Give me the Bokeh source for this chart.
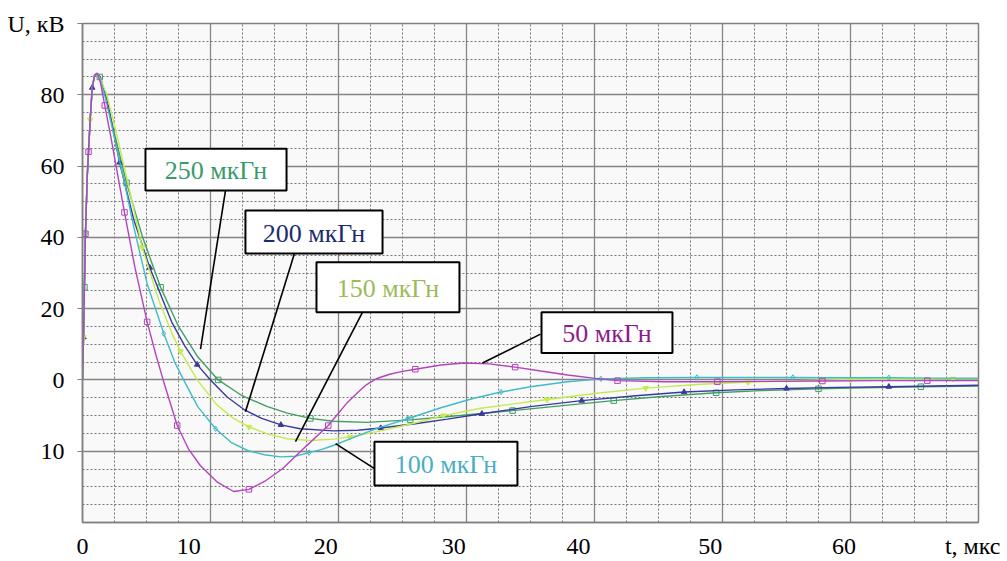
from bokeh.plotting import figure
from bokeh.models import Range1d, FixedTicker, Label, BoxAnnotation, CustomJSTickFormatter
from bokeh.embed import file_html
from bokeh.resources import INLINE

# ---------------- data ----------------
rise_t = [0, 0.08, 0.15, 0.23, 0.37, 0.47, 0.6, 0.76, 0.95, 1.15]
rise_u = [0, 12, 26, 41, 57, 64, 73, 82, 85.5, 86]

t250 = rise_t + [1.35, 1.8, 2.5, 3.44, 4.7, 6.1, 7.5, 9, 10.6, 12.5, 14.4, 16, 17.8, 19.6, 22.2, 25.6, 29.5, 33.6, 37.5, 41.5, 45, 49.5, 53, 57.5, 61, 65.5, 70]
u250 = rise_u + [85, 80, 69, 55.3, 40, 26, 15, 6.5, 0, -4.5, -7.4, -9.3, -10.8, -11.6, -11.9, -11.2, -10, -8.6, -7.2, -5.8, -4.7, -3.6, -3.0, -2.5, -2.2, -1.9, -1.7]

t200 = rise_t + [1.4, 2.0, 2.9, 4.0, 5.26, 7.0, 8.0, 8.96, 10, 11.3, 12.7, 14, 15.5, 17, 19.6, 21.5, 23.3, 26, 28.5, 31.2, 35, 39, 43, 47, 51, 55, 59, 63, 66.5, 70]
u200 = rise_u + [85, 77, 61, 45, 31.5, 16, 9.5, 4.3, 0, -4.8, -8.5, -10.8, -12.6, -13.7, -14.3, -14.1, -13.5, -12.3, -11, -9.5, -7.5, -5.8, -4.5, -3.4, -2.8, -2.4, -2.1, -1.9, -1.7, -1.5]

t150 = rise_t + [1.4, 1.9, 2.6, 3.5, 4.66, 6.0, 7.0, 7.66, 8.96, 10.5, 11.8, 13.0, 14.5, 16.0, 17.8, 19.6, 20.9, 23, 25.5, 28.2, 31, 33.5, 36.3, 40, 44, 48, 52, 56, 60, 64, 68, 70]
u150 = rise_u + [84.5, 80, 70, 56, 37.2, 22, 13, 8, 0, -7, -10.8, -13.2, -15.2, -16.5, -17, -16.6, -16, -14.5, -12.5, -10, -8, -6.8, -5.5, -3.8, -2.3, -1.3, -0.6, -0.2, 0.1, 0.2, 0.3, 0.3]

t100 = rise_t + [1.4, 1.8, 2.5, 3.3, 4.0, 5.05, 6.35, 7.2, 7.9, 9.0, 10.4, 11.6, 12.9, 14.2, 15.5, 16.6, 17.7, 18.7, 19.6, 21, 23, 25.4, 28, 30.5, 32.7, 35, 37.9, 40.5, 44, 48, 52, 55.5, 59, 63, 66.5, 70]
u100 = rise_u + [84, 79, 68, 55, 43, 27, 13, 5, 0, -7.5, -13.7, -17.5, -19.8, -21, -21.6, -21.4, -20.4, -19.5, -18.4, -16.4, -13.6, -10.9, -7.8, -5.2, -3.4, -1.9, -0.5, 0.3, 0.6, 0.7, 0.7, 0.7, 0.6, 0.6, 0.5, 0.5]

t50 = rise_t + [1.4, 1.74, 2.2, 2.7, 3.28, 4.1, 5.05, 5.7, 6.3, 7.4, 8.3, 9.2, 10.5, 11.8, 13, 14.3, 15.6, 17.5, 19.2, 20.7, 21.5, 22.2, 23, 24, 25, 26, 28, 29.8, 31.8, 33.8, 35.8, 37.9, 39.9, 41.8, 45.5, 49.6, 53.5, 57.8, 62, 66, 70]
u50 = rise_u + [83.5, 77, 68.5, 58.5, 47, 31.5, 16.3, 7.5, 0, -12.8, -19.5, -24, -28.6, -31.3, -30.7, -28.3, -25, -18.5, -12.8, -6.3, -3.5, -1.3, 0.4, 1.6, 2.4, 3.0, 4.2, 4.75, 4.5, 3.6, 2.5, 1.4, 0.5, -0.2, -0.5, -0.5, -0.4, -0.3, -0.2, -0.2, -0.2]

# points of each series that carry a marker
mk250 = [0.15, 1.35, 3.44, 6.1, 10.6, 17.8, 25.6, 33.6, 41.5, 49.5, 57.5, 65.5]
mk200 = [0.08, 0.76, 2.9, 5.26, 8.96, 15.5, 23.3, 31.2, 39, 47, 55, 63]
mk150 = [0.08, 0.23, 0.6, 4.66, 7.66, 13.0, 20.9, 28.2, 36.3, 44, 52, 60, 68]
mk100 = [0.23, 6.35, 10.4, 17.7, 25.4, 32.7, 40.5, 48, 55.5, 63]
mk50 = [0.23, 0.47, 1.74, 3.28, 5.05, 7.4, 13, 19.2, 26, 33.8, 41.8, 49.6, 57.8, 66]

names = ["250 мкГн", "200 мкГн", "150 мкГн", "100 мкГн", "50 мкГн"]

# tick labels (last ones are the axis titles, drawn at the axis ends)
xlabels = ["0", "10", "20", "30", "40", "50", "60", "t, мкс"]
ylabels = ["10", "0", "20", "40", "60", "80", "U, кВ"]

# ---------------- layout / style ----------------
xlabel_pos = [0, 8.3, 19.0, 29.0, 38.75, 49.05, 59.5, 69.55]
ylabel_pos = [-20, 0, 20, 40, 60, 80, 100]

line_colors = ["#3f9f63", "#3a3a9e", "#c4ec4c", "#3fbcc6", "#b443bd"]
text_colors = ["#3a9a68", "#1d2b6e", "#9cbb58", "#4aaec6", "#8c1c8c"]
markers = ["square", "triangle", "inverted_triangle", "diamond", "square"]
# callout boxes (left, right, top, bottom) and leader lines (x0, y0, x1, y1)
boxes = [(4.92, 15.94, 64.86, 53.12), (12.73, 23.44, 47.53, 35.5), (18.28, 29.45, 32.99, 19.01),
         (22.81, 33.98, -17.33, -29.63), (35.86, 46.09, 19.01, 7.55)]
leaders = [(11.17, 53.12, 9.22, 8.67), (16.56, 35.5, 12.73, -8.95), (21.88, 19.01, 16.64, -17.33),
           (22.81, -24.88, 19.77, -17.89), (35.78, 12.86, 31.25, 4.75)]

FONT = "Liberation Serif"

p = figure(width=1007, height=561, x_range=Range1d(0, 70), y_range=Range1d(-40, 100),
           output_backend="svg", toolbar_location=None,
           min_border_left=82, min_border_right=29, min_border_top=23, min_border_bottom=38,
           background_fill_color="#f9f9f9", border_fill_color="white")

p.outline_line_color = "#808080"
p.outline_line_width = 1.5

# grid
p.xgrid.ticker = FixedTicker(ticks=list(range(0, 71, 10)), minor_ticks=[k * 2.5 for k in range(29)])
p.ygrid.ticker = FixedTicker(ticks=list(range(-40, 101, 20)), minor_ticks=list(range(-40, 101, 5)))
for g in (p.xgrid, p.ygrid):
    g.grid_line_color = "#858585"
    g.grid_line_width = 1.3
    g.minor_grid_line_color = "#666666"
    g.minor_grid_line_dash = "2 2"
    g.minor_grid_line_width = 1
    g.minor_grid_line_alpha = 0.9

# axes
lookup = """
const i = pos.findIndex(v => Math.abs(v - tick) < 1e-6);
return i >= 0 ? labels[i] : '';
"""
p.xaxis.ticker = FixedTicker(ticks=xlabel_pos)
p.xaxis.formatter = CustomJSTickFormatter(args=dict(pos=xlabel_pos, labels=xlabels), code=lookup)
p.yaxis.ticker = FixedTicker(ticks=ylabel_pos)
p.yaxis.formatter = CustomJSTickFormatter(args=dict(pos=ylabel_pos, labels=ylabels), code=lookup)
p.xaxis.major_tick_line_color = None
p.xaxis.major_tick_out = 0
p.xaxis.major_tick_in = 0
p.xaxis.major_label_standoff = 10
p.yaxis.major_tick_out = 5
p.yaxis.major_tick_in = 0
p.yaxis.major_tick_line_color = "#808080"
p.yaxis.major_label_standoff = 13
for ax in (p.xaxis, p.yaxis):
    ax.axis_line_color = "#808080"
    ax.axis_line_width = 1.5
    ax.minor_tick_line_color = None
    ax.major_label_text_font = FONT
    ax.major_label_text_font_size = "24px"
    ax.major_label_text_color = "black"

# curves
series = [(t250, u250, mk250), (t200, u200, mk200), (t150, u150, mk150), (t100, u100, mk100), (t50, u50, mk50)]
for (ts, us, mk), lc, mkr in zip(series, line_colors, markers):
    p.line(ts, us, line_color=lc, line_width=1.4)
    mx = [t for t in ts if t in mk]
    my = [u for t, u in zip(ts, us) if t in mk]
    fill = lc if mkr in ("triangle", "inverted_triangle") else None
    p.scatter(mx, my, marker=mkr, size=5.5, line_color=lc, fill_color=fill, line_width=1)

# leader lines
p.segment([l[0] for l in leaders], [l[1] for l in leaders], [l[2] for l in leaders], [l[3] for l in leaders],
          line_color="black", line_width=1.6)

# callout boxes
for (l, r, t, b), name, tc in zip(boxes, names, text_colors):
    p.add_layout(BoxAnnotation(left=l, right=r, top=t, bottom=b, fill_color="white", fill_alpha=1,
                               line_color="black", line_width=2, line_alpha=1))
    p.add_layout(Label(x=(l + r) / 2, y=(t + b) / 2 - 0.3, text=name, text_align="center", text_baseline="middle",
                       text_font=FONT, text_font_size="26px", text_color=tc))

open("out.html", "w").write(file_html(p, INLINE))
